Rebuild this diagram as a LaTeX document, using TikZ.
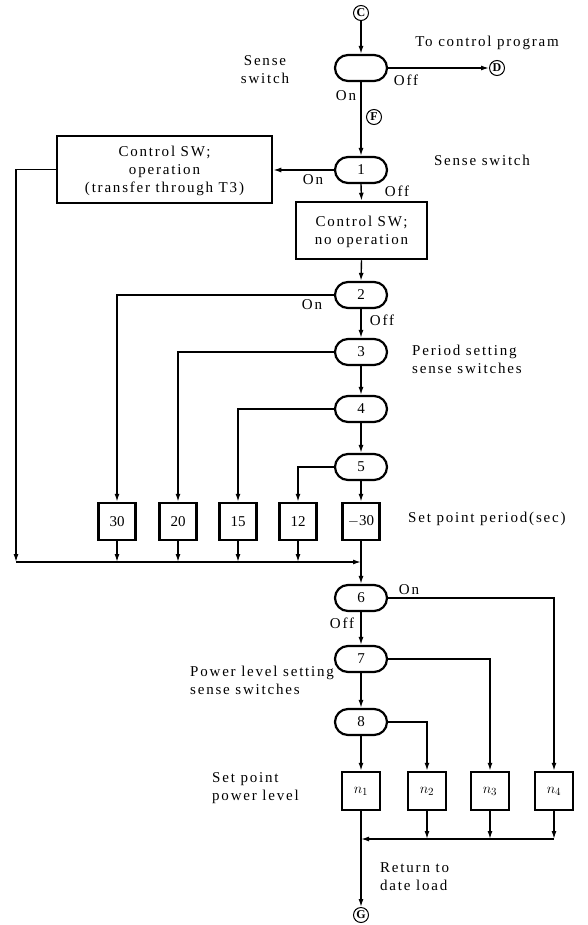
\documentclass[tikz,border=0pt]{standalone}
\usepackage{fontspec}
\setmainfont{Liberation Serif}[LetterSpace=12]
\newfontfamily\numfont{Liberation Serif}
\usetikzlibrary{arrows.meta}
\tikzset{
  base/.style={font=\fontsize{15}{18}\selectfont},
  lbl/.style={base, inner sep=0pt, align=left},
  oval/.style={draw, line width=2.2pt, rounded corners=13pt, minimum width=52pt, minimum height=26pt, inner sep=0pt, font=\numfont\fontsize{15}{18}\selectfont},
  bigbox/.style={draw, line width=2.5pt, inner sep=0pt, align=center, base, text depth=0pt},
  pbox/.style={draw, line width=2.5pt, minimum width=37pt, minimum height=37pt, inner sep=0pt, font=\numfont\fontsize{15}{18}\selectfont},
  circ/.style={draw, circle, line width=1pt, minimum size=15pt, inner sep=0pt, font=\numfont\bfseries\fontsize{12}{13}\selectfont},
  arr/.style={line width=1.4pt, -{Latex[length=8pt,width=5pt]}},
}
\begin{document}
\begin{tikzpicture}[x=1pt,y=-1pt]
\useasboundingbox (0,0) rectangle (588,925);
% switches and boxes
\node[circ] (C) at (361,13) {C};
\node[oval] (s0) at (361,68) {};
\node[circ] (D) at (497,68) {D};
\node[circ] (F) at (374,117) {F};
\node[oval] (s1) at (361,170) {1};
\node[bigbox, minimum width=215pt, minimum height=67pt] (op) at (164.5,169.5) {Control SW;\\operation\\(transfer through T3)};
\node[bigbox, minimum width=131pt, minimum height=57pt] (noop) at (361.5,230.5) {Control SW;\\no operation};
\node[oval] (s2) at (361,295) {2};
\node[oval] (s3) at (361,352) {3};
\node[oval] (s4) at (361,409) {4};
\node[oval] (s5) at (361,467) {5};
\node[pbox] (p30) at (117,521.5) {30};
\node[pbox] (p20) at (178,521.5) {20};
\node[pbox] (p15) at (238,521.5) {15};
\node[pbox] (p12) at (298,521.5) {12};
\node[pbox] (pm30) at (361,521.5) {$-$30};
\coordinate (lc) at (16,562);
\coordinate (mj) at (361,562);
\node[oval] (s6) at (361,598) {6};
\node[oval] (s7) at (361,659) {7};
\node[oval] (s8) at (361,722) {8};
\node[pbox, minimum width=38pt, minimum height=38pt] (n1) at (361,791) {$n_1$};
\node[pbox, minimum width=38pt, minimum height=38pt] (n2) at (427,791) {$n_2$};
\node[pbox, minimum width=38pt, minimum height=38pt] (n3) at (490,791) {$n_3$};
\node[pbox, minimum width=38pt, minimum height=38pt] (n4) at (554,791) {$n_4$};
\coordinate (nc) at (361,839);
\node[circ] (G) at (361,915) {G};
% connectors
\draw[arr] (C) -- (s0.north);
\draw[arr] (s0.east) -- (D.west);
\draw[arr] (s0.south) -- (s1.north);
\draw[arr] (s1.west) -- (s1.west -| op.east);
\draw[arr] (s1.south) -- (noop.north);
\draw[arr] (noop.south) -- (s2.north);
\draw[arr] (s2.south) -- (s3.north);
\draw[arr] (s3.south) -- (s4.north);
\draw[arr] (s4.south) -- (s5.north);
\draw[arr] (s5.south) -- (pm30.north);
\draw[arr] (s2.west) -| (p30.north);
\draw[arr] (s3.west) -| (p20.north);
\draw[arr] (s4.west) -| (p15.north);
\draw[arr] (s5.west) -| (p12.north);
\draw[arr] (op.west) -| (lc);
\draw[arr] (lc) -- (mj);
\foreach \b in {p30,p20,p15,p12} \draw[arr] (\b.south) -- (\b.south |- lc);
\draw[arr] (pm30.south) -- (s6.north);
\draw[arr] (s6.east) -| (n4.north);
\draw[arr] (s6.south) -- (s7.north);
\draw[arr] (s7.east) -| (n3.north);
\draw[arr] (s7.south) -- (s8.north);
\draw[arr] (s8.east) -| (n2.north);
\draw[arr] (s8.south) -- (n1.north);
\foreach \b in {n2,n3,n4} \draw[arr] (\b.south) -- (\b.south |- nc);
\draw[arr] (n4.south |- nc) -- (nc);
\draw[arr] (n1.south) -- (G.north);
% labels
\node[lbl, align=center] (t1) at (265,70) {Sense\\switch};
\node[lbl] (t2) at (487,43) {To control program};
\node[lbl] (t3) at (406,80) {Off};
\node[lbl] (t4) at (346,96) {On};
\node[lbl] (t5) at (482,160) {Sense switch};
\node[lbl] (t6) at (313,180) {On};
\node[lbl] (t7) at (397,191) {Off};
\node[lbl] (t8) at (312,305) {On};
\node[lbl] (t9) at (382,320) {Off};
\node[lbl, anchor=west] (t10) at (412,359) {Period setting\\sense switches};
\node[lbl, anchor=west] (t11) at (408,519) {Set point period(sec)};
\node[lbl] (t12) at (409,590) {On};
\node[lbl] (t13) at (342,623) {Off};
\node[lbl, anchor=west] (t14) at (190,680) {Power level setting\\sense switches};
\node[lbl, anchor=west] (t15) at (212,788) {Set point\\power level};
\node[lbl, anchor=west] (t16) at (380,877) {Return to\\date load};
\end{tikzpicture}
\end{document}
